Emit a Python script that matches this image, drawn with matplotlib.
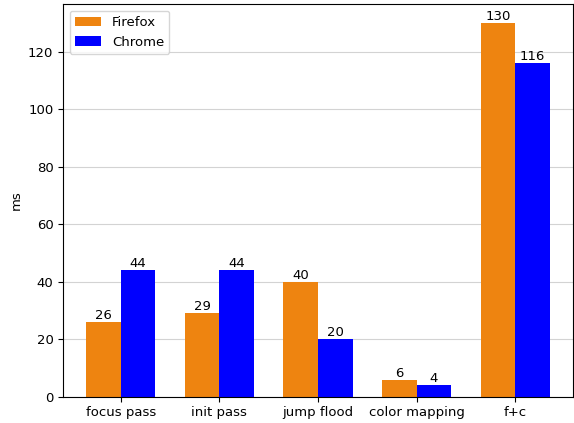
import numpy as np
import matplotlib.pyplot as plt

plt.rcParams["font.size"] = 9.5

stages = ["focus pass", "init pass", "jump flood", "color mapping", "f+c"]
firefox = [26, 29, 40, 6, 130]
chrome = [44, 44, 20, 4, 116]

x = np.arange(len(stages))
w = 0.35

fig, ax = plt.subplots(figsize=(5.74, 4.23), dpi=100)
ax.set_axisbelow(True)
ax.yaxis.grid(True, color="#d3d3d3")

b1 = ax.bar(x - w / 2, firefox, w, label="Firefox", color="#EE8410")
b2 = ax.bar(x + w / 2, chrome, w, label="Chrome", color="#0000FF")
ax.bar_label(b1)
ax.bar_label(b2)

ax.set_xticks(x)
ax.set_xticklabels(stages)
ax.set_ylabel("ms")
ax.legend(loc="upper left")

plt.subplots_adjust(left=0.11, right=0.998, top=0.99, bottom=0.062)
plt.savefig("out.png")
